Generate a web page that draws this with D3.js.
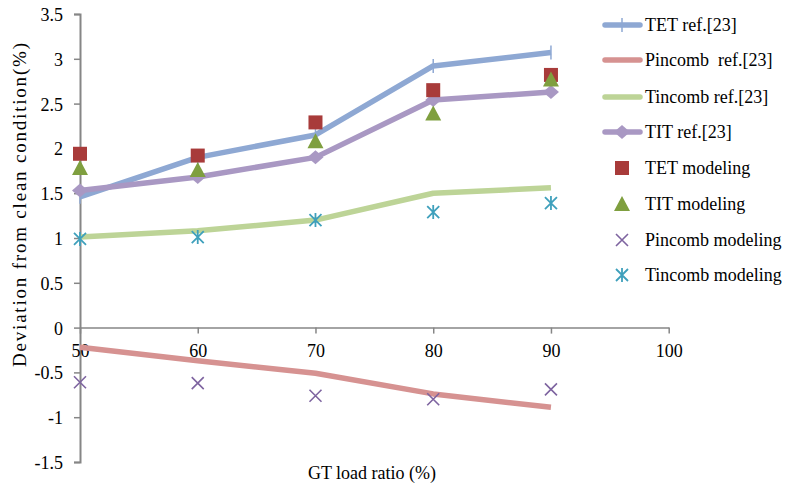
<!DOCTYPE html>
<html>
<head>
<meta charset="utf-8">
<script src="https://cdn.jsdelivr.net/npm/d3@7"></script>
<style>
  html, body { margin: 0; padding: 0; background: #fff; }
  svg { display: block; font-family: "Liberation Serif", "Times New Roman", serif; }
  text { white-space: pre; }
</style>
</head>
<body>
<svg id="chart" width="788" height="490"></svg>
<script>
// GT load ratio (%) on the x axis
const loads = [50, 60, 70, 80, 90];
const xTicks = [50, 60, 70, 80, 90, 100];
const yTicks = [-1.5, -1, -0.5, 0, 0.5, 1, 1.5, 2, 2.5, 3, 3.5];

// Reference lines (ref.[23])
const tetRef      = [1.46, 1.90, 2.15, 2.92, 3.07];
const pincombRef  = [-0.22, -0.37, -0.51, -0.74, -0.89];
const tincombRef  = [1.01, 1.08, 1.20, 1.50, 1.56];
const titRef      = [1.53, 1.68, 1.90, 2.54, 2.63];

// Modeling points
const tetModel     = [1.94, 1.92, 2.29, 2.65, 2.82];
const titModel     = [1.78, 1.76, 2.08, 2.39, 2.77];
const pincombModel = [-0.61, -0.62, -0.76, -0.80, -0.69];
const tincombModel = [0.99, 1.01, 1.20, 1.29, 1.39];

const svg = d3.select("#chart");
const x = d3.scaleLinear().domain([50, 100]).range([80, 668.7]);
const y = d3.scaleLinear().domain([-1.5, 3.5]).range([462, 14]);
const axisColor = "#868686";
const fontSize = 18;
const serif = "Liberation Serif";

// y axis (plain hyphen for negatives)
const yAxis = svg.append("g").attr("transform", `translate(${x(50)},0)`)
  .call(d3.axisLeft(y).tickValues(yTicks).tickSize(6).tickPadding(11)
    .tickFormat(d => String(d)));
yAxis.select(".domain").attr("stroke", axisColor).attr("stroke-width", 2);
yAxis.selectAll(".tick line").attr("stroke", axisColor).attr("stroke-width", 1.5);
yAxis.selectAll(".tick text").attr("font-size", fontSize).attr("fill", "#000")
  .attr("font-family", serif).attr("dy", "0.36em");

// x axis through zero
const xAxis = svg.append("g").attr("transform", `translate(0,${y(0)})`)
  .call(d3.axisBottom(x).tickValues(xTicks).tickSize(6).tickSizeOuter(0)
    .tickFormat(d => String(d)));
xAxis.select(".domain").attr("stroke", axisColor).attr("stroke-width", 1.5);
xAxis.selectAll(".tick line").attr("stroke", axisColor).attr("stroke-width", 1.5);
xAxis.selectAll(".tick text").attr("font-size", fontSize).attr("fill", "#000")
  .attr("font-family", serif).attr("y", 29).attr("dy", null);

// axis titles
svg.append("text").attr("x", 372).attr("y", 479).attr("text-anchor", "middle")
  .attr("font-size", fontSize).text("GT load ratio (%)");
svg.append("text").attr("transform", "translate(26,205) rotate(-90)")
  .attr("text-anchor", "middle").attr("font-size", 19)
  .attr("textLength", 324).attr("lengthAdjust", "spacing")
  .text("Deviation from clean condition(%)");

const line = d3.line().x((d, i) => x(loads[i])).y(d => y(d));
const lineW = 5.5;

const refs = [
  { name: "TET ref.[23]", values: tetRef, color: "#8EA8D3", marker: "plus" },
  { name: "Pincomb  ref.[23]", values: pincombRef, color: "#D69291", marker: null },
  { name: "Tincomb ref.[23]", values: tincombRef, color: "#BDD497", marker: null },
  { name: "TIT ref.[23]", values: titRef, color: "#A998C3", marker: "diamond" }
];

function drawLineMarker(g, type, cx, cy, color) {
  if (type === "plus") {
    g.append("line").attr("x1", cx).attr("x2", cx).attr("y1", cy - 7).attr("y2", cy + 7)
      .attr("stroke", color).attr("stroke-width", 1.5);
  } else if (type === "diamond") {
    g.append("path").attr("transform", `translate(${cx},${cy})`)
      .attr("d", "M0,-7L8,0L0,7L-8,0Z").attr("fill", color);
  }
}

refs.forEach(s => {
  const g = svg.append("g");
  g.append("path").datum(s.values).attr("d", line).attr("fill", "none")
    .attr("stroke", s.color).attr("stroke-width", lineW).attr("stroke-linejoin", "round");
  if (s.marker) s.values.forEach((v, i) => drawLineMarker(g, s.marker, x(loads[i]), y(v), s.color));
});

const models = [
  { name: "TET modeling", values: tetModel, color: "#A83B3A", marker: "square" },
  { name: "TIT modeling", values: titModel, color: "#7F9F3F", marker: "triangle" },
  { name: "Pincomb modeling", values: pincombModel, color: "#7E64A0", marker: "x" },
  { name: "Tincomb modeling", values: tincombModel, color: "#3FA0BC", marker: "star" }
];

function drawPoint(g, type, cx, cy, color) {
  const p = g.append("g").attr("transform", `translate(${cx},${cy})`);
  if (type === "square") {
    p.append("rect").attr("x", -7).attr("y", -7).attr("width", 14).attr("height", 14).attr("fill", color);
  } else if (type === "triangle") {
    p.append("path").attr("d", "M0,-8L8,7L-8,7Z").attr("fill", color);
  } else if (type === "x") {
    p.append("path").attr("d", "M-6,-6L6,6M-6,6L6,-6").attr("stroke", color).attr("stroke-width", 1.6);
  } else if (type === "star") {
    p.append("path").attr("d", "M-6,-6L6,6M-6,6L6,-6M0,-7L0,7").attr("stroke", color).attr("stroke-width", 1.8);
  }
}

models.forEach(s => {
  const g = svg.append("g");
  s.values.forEach((v, i) => drawPoint(g, s.marker, x(loads[i]), y(v), s.color));
});

// legend
const legend = svg.append("g");
const refY = [25, 60, 97, 132];
refs.forEach((s, i) => {
  legend.append("line").attr("x1", 605).attr("x2", 640).attr("y1", refY[i]).attr("y2", refY[i])
    .attr("stroke", s.color).attr("stroke-width", lineW).attr("stroke-linecap", "round");
  drawLineMarker(legend, s.marker, 622, refY[i], s.color);
  legend.append("text").attr("x", 645).attr("y", refY[i] + 6).attr("font-size", fontSize).text(s.name);
});
const modY = [168, 204, 240, 275];
models.forEach((s, i) => {
  drawPoint(legend, s.marker, 622, modY[i], s.color);
  legend.append("text").attr("x", 645).attr("y", modY[i] + 6).attr("font-size", fontSize).text(s.name);
});
</script>
</body>
</html>
